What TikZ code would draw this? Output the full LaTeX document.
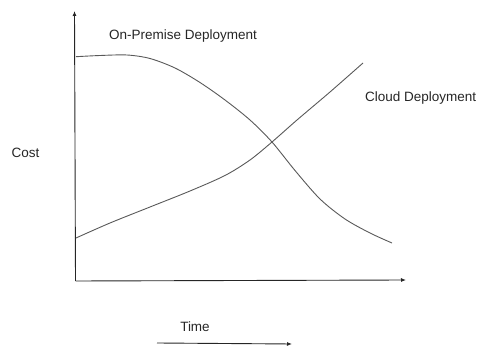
\documentclass[tikz,border=0pt]{standalone}
\usepackage{fontspec}
\setmainfont{Liberation Sans}
\usetikzlibrary{arrows.meta}
\begin{document}
\begin{tikzpicture}[x=1pt,y=-1pt,
  axis/.style={line width=0.9pt,draw=black!85,-{Latex[length=5pt,width=4pt]}},
  curve/.style={line width=0.9pt,draw=black!65},
  lbl/.style={font=\fontsize{13.5}{15}\selectfont,text=black!85,inner sep=0pt}]
\useasboundingbox (0,0) rectangle (477,347);
\coordinate (o) at (75.5,281);
\coordinate (ytop) at (74.5,11);
\coordinate (xend) at (406,280);
\coordinate (ta) at (157,343);
\coordinate (tb) at (292,344);
\draw[axis] (o) -- (ytop);
\draw[axis] (o) -- (xend);
\draw[axis] (ta) -- (tb);
\draw[curve] plot[smooth,tension=0.5] coordinates {(76,56.7) (100,55.5) (127,55) (150,58.5) (175,68) (200,82.5) (225,100) (250,120) (272,142) (295,170.5) (320,199) (345,219) (370,233) (392,243)};
\draw[curve] plot[smooth,tension=0.5] coordinates {(76,238) (110,223) (150,207) (190,191) (225,175.5) (250,160) (272,142) (297,120) (330,92) (363,63)};
\node[lbl,anchor=west] (onp) at (109,36) {On-Premise Deployment};
\node[lbl,anchor=west] (cloud) at (365,98) {Cloud Deployment};
\node[lbl] (cost) at (25.5,153) {Cost};
\node[lbl] (time) at (195,327) {Time};
\end{tikzpicture}
\end{document}
